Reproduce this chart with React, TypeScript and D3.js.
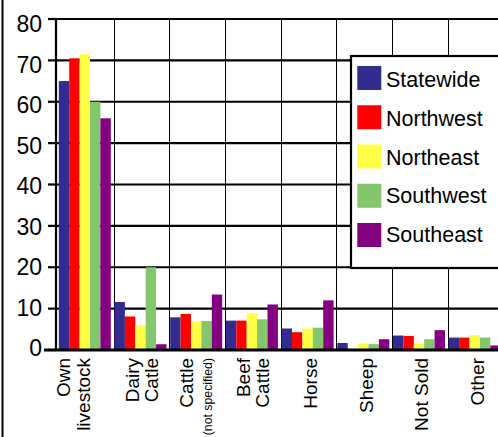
import React from "react";
import * as d3 from "d3";

const categories = ["Own livestock", "Dairy Catle", "Cattle (not specified)", "Beef Cattle", "Horse", "Sheep", "Not Sold", "Other"];
const categoryLines = [["Own", "livestock"], ["Dairy", "Catle"], ["Cattle", "(not specified)"], ["Beef", "Cattle"], ["Horse"], ["Sheep"], ["Not Sold"], ["Other"]];
const seriesNames = ["Statewide", "Northwest", "Northeast", "Southwest", "Southeast"];
const seriesColors = ["#332c90", "#ff0000", "#ffff44", "#83c66b", "#830080"];
const statewide = [65, 11.6, 7.9, 7.1, 5.2, 1.7, 3.5, 3.0];
const northwest = [70.5, 8.1, 8.7, 7.1, 4.3, 0, 3.4, 3.0];
const northeast = [71.5, 5.9, 6.9, 8.9, 5.2, 1.6, 1.5, 3.6];
const southwest = [60, 20, 7, 7.4, 5.4, 1.4, 2.6, 3.0];
const southeast = [56, 1.4, 13.4, 11, 12, 2.6, 4.8, 1.1];
const yTicks = [0, 10, 20, 30, 40, 50, 60, 70, 80];

const seriesValues = [statewide, northwest, northeast, southwest, southeast];

export default function App() {
  const W = 498, H = 437;
  const y = d3.scaleLinear().domain([0, 80]).range([350, 19]);
  const yLabel = d3.scaleLinear().domain([0, 80]).range([356, 32]);
  const x = d3.scaleBand().domain(categories).range([57.8, 57.8 + 8 * 55.7]).padding(0);
  const x1 = d3.scaleBand().domain(seriesNames).range([1, 53]).padding(0);
  const font = "'Liberation Sans', Arial, Helvetica, sans-serif";

  return (
    <svg width={W} height={H} style={{ position: "absolute", left: 0, top: 0, background: "#fff" }} fontFamily={font}>
      <rect x={0} y={0} width={W} height={H} fill="#fff" />
      {/* left border */}
      <line x1={2.5} x2={2.5} y1={0} y2={H} stroke="#000" strokeWidth={2} />
      {/* vertical gridlines */}
      {categories.slice(1).map((c) => (
        <line key={c} x1={Math.round(x(c)!) + 0.5} x2={Math.round(x(c)!) + 0.5} y1={y(80)} y2={y(0)} stroke="#000" strokeWidth={1} />
      ))}
      {/* horizontal gridlines */}
      {yTicks.filter((t) => t > 0).map((t) => (
        <line key={t} x1={t === 80 ? 48 : 56} x2={W} y1={y(t)} y2={y(t)} stroke="#000" strokeWidth={2.2} />
      ))}
      {/* bars */}
      {categories.map((c, ci) => (
        <g key={c} transform={`translate(${x(c)},0)`}>
          {seriesNames.map((s, si) => {
            const v = seriesValues[si][ci];
            if (v <= 0) return null;
            return (
              <rect key={s} x={x1(s)} y={y(v)} width={x1.bandwidth()} height={y(0) - y(v)} fill={seriesColors[si]} />
            );
          })}
        </g>
      ))}
      {/* y axis */}
      <line x1={56} x2={56} y1={y(80) - 1} y2={y(0)} stroke="#000" strokeWidth={2.2} />
      {yTicks.map((t) => (
        <line key={"tk" + t} x1={48} x2={56} y1={y(t)} y2={y(t)} stroke="#000" strokeWidth={2.2} />
      ))}
      <line x1={44} x2={W} y1={y(0)} y2={y(0)} stroke="#000" strokeWidth={3} />
      {yTicks.map((t) => (
        <text key={"yl" + t} x={42} y={yLabel(t)} textAnchor="end" fontSize={23} fill="#000">{t}</text>
      ))}
      {/* x labels */}
      {categories.map((c, ci) => {
        const lines = categoryLines[ci];
        const cx = x(c)! + x.bandwidth() / 2;
        let offsets: number[];
        if (lines.length === 1) offsets = [8.5];
        else if (ci === 0) offsets = [-15.6, 4.4];
        else if (ci === 2) offsets = [-3.7, 15];
        else offsets = [-2.5, 16.5];
        return lines.map((ln, li) => {
          const small = ci === 2 && li === 1;
          const bx = cx + offsets[li];
          return (
            <text key={c + li} transform={`translate(${bx},358) rotate(-90)`} textAnchor="end" fontSize={small ? 12.3 : 19} fill="#000">{ln}</text>
          );
        });
      })}
      {/* legend */}
      <rect x={351} y={56} width={W} height={212} fill="#fff" stroke="#000" strokeWidth={2.2} />
      {seriesNames.map((s, si) => (
        <g key={"lg" + s}>
          <rect x={357.3} y={66 + si * 39.25} width={24} height={24} fill={seriesColors[si]} />
          <text x={386} y={87.3 + si * 38.6} fontSize={21.5} fill="#000">{s}</text>
        </g>
      ))}
    </svg>
  );
}
